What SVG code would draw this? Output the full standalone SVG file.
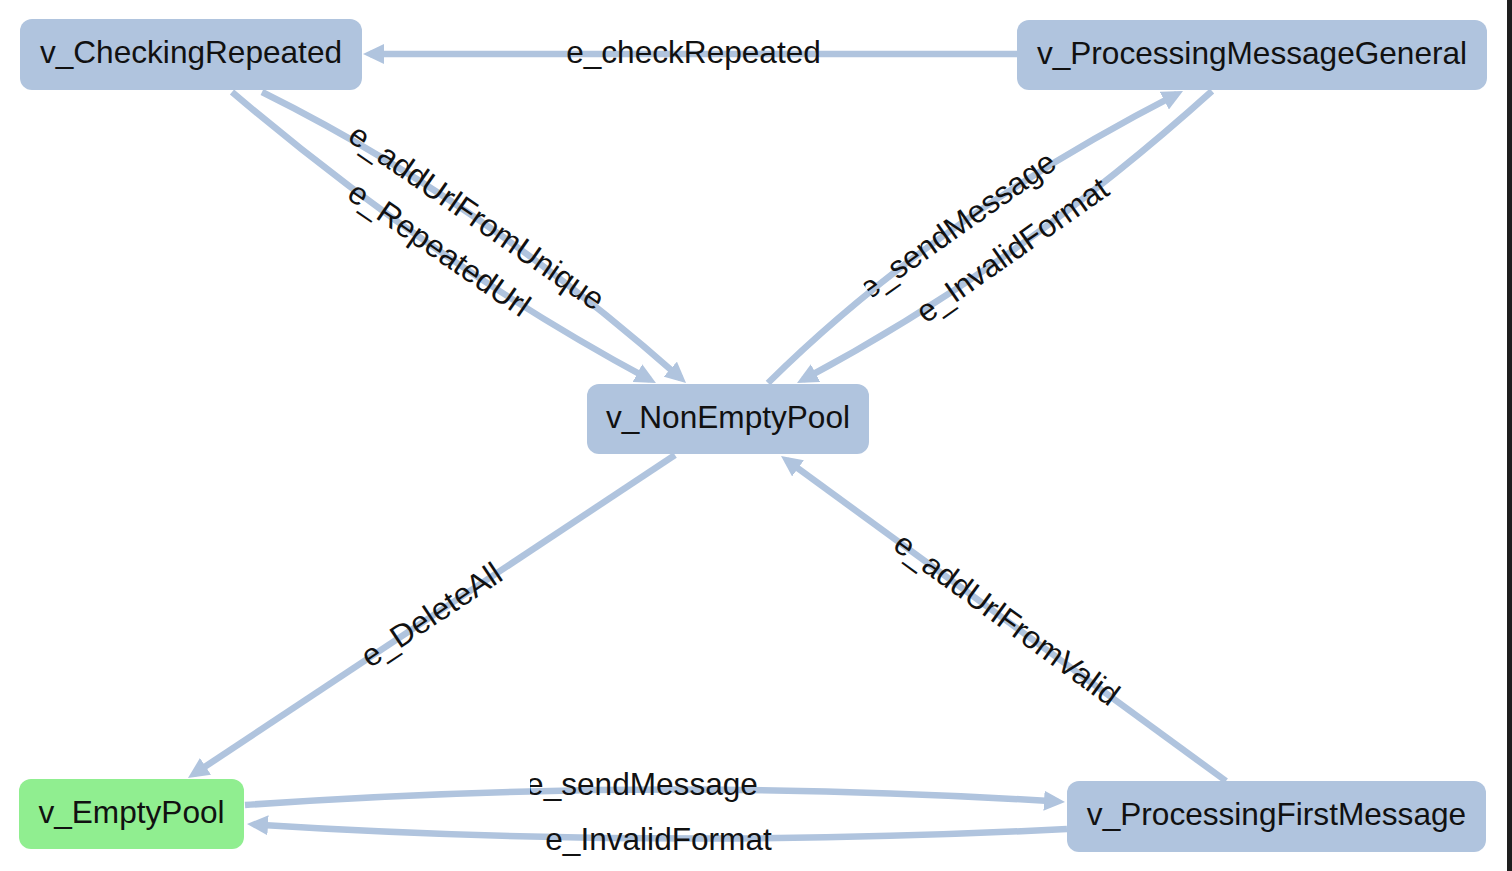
<svg xmlns="http://www.w3.org/2000/svg" width="1512" height="871" viewBox="0 0 1512 871">
<style>
.node rect{fill:#b0c4de;}
#v_EmptyPool rect{fill:#90ee90;}
.node text,.lbl text{font-family:"Liberation Sans",Arial,sans-serif;font-size:31.6px;fill:#111;text-anchor:middle;}
.edge{fill:none;stroke:#b0c4de;stroke-width:6.5;marker-end:url(#arr);}
</style>
<defs>
<marker id="arr" markerUnits="userSpaceOnUse" viewBox="0 0 21 20" refX="14" refY="10" markerWidth="21" markerHeight="20" orient="auto">
<path d="M0,0 L21,10 L0,20 z" fill="#b0c4de"/>
</marker>
<clipPath id="cutBottom" clipPathUnits="userSpaceOnUse"><rect x="530" y="750" width="300" height="60"/></clipPath>
<clipPath id="cutTop" clipPathUnits="userSpaceOnUse"><rect x="-111" y="-40" width="260" height="80"/></clipPath>
</defs>
<rect x="0" y="0" width="1512" height="871" fill="#ffffff"/>
<rect x="1507" y="0" width="5" height="871" fill="#1e1e1e"/>

<g id="connectors">
<path id="e_checkRepeated" class="edge" d="M1017,54 L370,54"/>
<path id="e_addUrlFromUnique" class="edge" d="M262,92 Q478,199 680.8,378.4"/>
<path id="e_RepeatedUrl" class="edge" d="M232,92 Q433,263 649.8,379.7"/>
<path id="e_sendMessage_top" class="edge" d="M768,383 Q934,219 1176.8,94.2"/>
<path id="e_InvalidFormat_top" class="edge" d="M1212,91 Q1020,264 803.2,379.7"/>
<path id="e_DeleteAll" class="edge" d="M675,455 L193.8,774.1"/>
<path id="e_addUrlFromValid" class="edge" d="M1226,781 L786.7,460.1"/>
<path id="e_sendMessage_bottom" class="edge" d="M245,805 Q655,776 1058,801.6"/>
<path id="e_InvalidFormat_bottom" class="edge" d="M1067,829 Q657,850 254,824.4"/>
</g>

<g id="labels" class="lbl">
<text x="693.5" y="54" dy="0.3em">e_checkRepeated</text>
<g transform="translate(476,218) rotate(34.6)"><text x="0" y="0" dy="0.3em">e_addUrlFromUnique</text></g>
<g transform="translate(438.5,250) rotate(34.5)"><text x="0" y="0" dy="0.3em">e_RepeatedUrl</text></g>
<g transform="translate(958,226) rotate(-35.1)"><text x="0" y="0" dy="0.3em" clip-path="url(#cutTop)">e_sendMessage</text></g>
<g transform="translate(1013,251) rotate(-35.1)"><text x="0" y="0" dy="0.3em">e_InvalidFormat</text></g>
<g transform="translate(432,616) rotate(-33.6)"><text x="0" y="0" dy="0.3em">e_DeleteAll</text></g>
<g transform="translate(1006,620) rotate(36.1)"><text x="0" y="0" dy="0.3em">e_addUrlFromValid</text></g>
<text x="642" y="795" clip-path="url(#cutBottom)">e_sendMessage</text>
<text x="658.5" y="850">e_InvalidFormat</text>
</g>

<g id="v_CheckingRepeated" class="node">
<rect x="20" y="19" width="342" height="71" rx="12"/>
<text x="191" y="54.5" dy="0.28em">v_CheckingRepeated</text>
</g>
<g id="v_ProcessingMessageGeneral" class="node">
<rect x="1017" y="20" width="470" height="70" rx="12"/>
<text x="1252" y="55" dy="0.28em">v_ProcessingMessageGeneral</text>
</g>
<g id="v_NonEmptyPool" class="node">
<rect x="587" y="384" width="282" height="70" rx="12"/>
<text x="728" y="419" dy="0.28em">v_NonEmptyPool</text>
</g>
<g id="v_EmptyPool" class="node">
<rect x="19" y="779" width="225" height="70" rx="12"/>
<text x="131.5" y="814" dy="0.28em">v_EmptyPool</text>
</g>
<g id="v_ProcessingFirstMessage" class="node">
<rect x="1067" y="781" width="419" height="71" rx="12"/>
<text x="1276.5" y="816.5" dy="0.28em">v_ProcessingFirstMessage</text>
</g>
</svg>
